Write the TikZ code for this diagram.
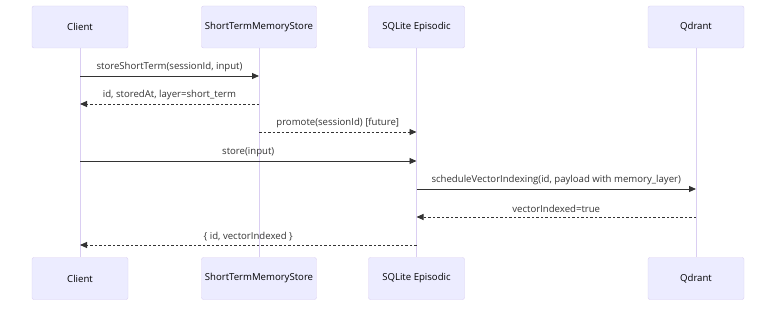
\documentclass[tikz,border=0pt]{standalone}
\usepackage{fontspec}
\setmainfont{Open Sans}
\usetikzlibrary{arrows.meta, positioning}
\definecolor{actorfill}{HTML}{ECECFF}
\definecolor{actorline}{HTML}{DACEF2}
\definecolor{ink}{HTML}{333333}
\tikzset{
    actor/.style={
        rectangle,
        draw=actorline,
        rounded corners=2pt,
        fill=actorfill,
        minimum width=96pt,
        minimum height=42pt,
        text=black,
        font=\fontsize{9.6}{11}\selectfont
    },
    lifeline/.style={
        draw=actorline,
        line width=1pt
    },
    call/.style={
        draw=ink,
        line width=0.9pt,
        -{Triangle[length=7pt,width=6pt]}
    },
    reply/.style={
        draw=ink,
        line width=0.9pt,
        dash pattern=on 2.5pt off 2pt,
        -{Triangle[length=7pt,width=6pt]}
    },
    msglabel/.style={
        midway,
        above,
        inner sep=0pt,
        yshift=3.5pt,
        text=ink,
        font=\fontsize{9.6}{11}\selectfont
    }
}

\begin{document}
\begin{tikzpicture}[x=1pt, y=-1pt]
\useasboundingbox (0,0) rectangle (784,310);

% Participants, top row
\node[actor] (client) at (80,27) {Client};
\node[actor, minimum width=114pt] (stm) at (259,27) {ShortTermMemoryStore};
\node[actor] (sqlite) at (416.5,27) {SQLite Episodic};
\node[actor] (qdrant) at (696,27) {Qdrant};

% Participants, bottom row
\node[actor] (client_b) at (80,278.5) {Client};
\node[actor, minimum width=114pt] (stm_b) at (259,278.5) {ShortTermMemoryStore};
\node[actor] (sqlite_b) at (416.5,278.5) {SQLite Episodic};
\node[actor] (qdrant_b) at (696,278.5) {Qdrant};

% Lifelines
\draw[lifeline] (client.south) -- (client_b.north);
\draw[lifeline] (stm.south) -- (stm_b.north);
\draw[lifeline] (sqlite.south) -- (sqlite_b.north);
\draw[lifeline] (qdrant.south) -- (qdrant_b.north);

% Message rows
\coordinate (m1) at (0,76);
\coordinate (m2) at (0,104);
\coordinate (m3) at (0,132);
\coordinate (m4) at (0,161);
\coordinate (m5) at (0,189);
\coordinate (m6) at (0,217);
\coordinate (m7) at (0,245);

% Messages
\draw[call] (client |- m1) -- (stm |- m1) node[msglabel] {storeShortTerm(sessionId, input)};
\draw[reply] (stm |- m2) -- (client |- m2) node[msglabel] {id, storedAt, layer=short\_term};
\draw[reply] (stm |- m3) -- (sqlite |- m3) node[msglabel] {promote(sessionId) [future]};
\draw[call] (client |- m4) -- (sqlite |- m4) node[msglabel] {store(input)};
\draw[call] (sqlite |- m5) -- (qdrant |- m5) node[msglabel] {scheduleVectorIndexing(id, payload with memory\_layer)};
\draw[reply] (qdrant |- m6) -- (sqlite |- m6) node[msglabel] {vectorIndexed=true};
\draw[reply] (sqlite |- m7) -- (client |- m7) node[msglabel] {\{ id, vectorIndexed \}};

\end{tikzpicture}
\end{document}
